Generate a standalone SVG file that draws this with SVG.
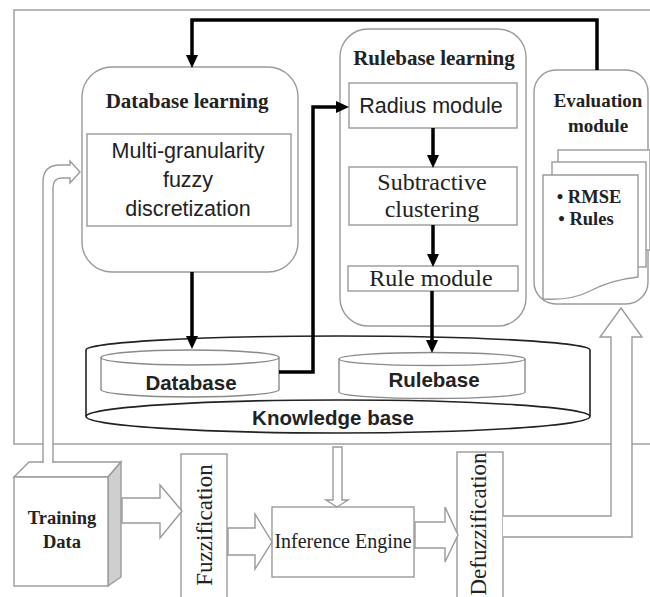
<svg xmlns="http://www.w3.org/2000/svg" width="650" height="597" viewBox="0 0 650 597">
<defs>
<marker id="ah" markerUnits="userSpaceOnUse" markerWidth="14" markerHeight="14" viewBox="0 -7 14 14" refX="1" refY="0" orient="auto">
<path d="M0,-6 L13,0 L0,6 Z" fill="#000"/>
</marker>
<style>
.g{fill:#fff;stroke:#9a9a9a;stroke-width:1.4}
.gb{fill:none;stroke:#9a9a9a;stroke-width:1.4}
.k{fill:none;stroke:#000;stroke-width:3.5;marker-end:url(#ah)}
.kb{fill:#fff;stroke:#222;stroke-width:1.6}
.sb{font-family:"Liberation Serif",serif;font-weight:bold;fill:#222;text-anchor:middle}
.sr{font-family:"Liberation Serif",serif;fill:#222;text-anchor:middle}
.ss{font-family:"Liberation Sans",Arial,sans-serif;fill:#222;text-anchor:middle}
.ssb{font-family:"Liberation Sans",Arial,sans-serif;font-weight:bold;fill:#222;text-anchor:middle}
</style>
</defs>
<rect x="0" y="0" width="650" height="597" fill="#fff"/>
<rect x="14" y="10" width="650" height="434" class="gb"/>

<g id="database-learning">
<rect x="82" y="67" width="216" height="205" rx="30" class="g"/>
<text x="187" y="108" class="sb" font-size="21">Database learning</text>
<rect x="87" y="134" width="204" height="92" class="g"/>
<text x="188" y="158" class="ss" font-size="21.5">Multi-granularity</text>
<text x="188" y="187" class="ss" font-size="21.5">fuzzy</text>
<text x="188" y="216" class="ss" font-size="21.5">discretization</text>
</g>

<g id="rulebase-learning">
<rect x="340" y="29" width="186" height="297" rx="28" class="g"/>
<text x="434" y="65" class="sb" font-size="21">Rulebase learning</text>
</g>
<g id="radius-module">
<rect x="349" y="83" width="168" height="45" class="g"/>
<text x="431" y="113" class="ss" font-size="21.5">Radius module</text>
</g>
<g id="subtractive-clustering">
<rect x="349" y="167" width="168" height="58" class="g"/>
<text x="432" y="190" class="sr" font-size="24">Subtractive</text>
<text x="432" y="217" class="sr" font-size="24">clustering</text>
</g>
<g id="rule-module">
<rect x="348" y="266" width="170" height="25" class="g"/>
<text x="431" y="286" class="sr" font-size="24">Rule module</text>
</g>

<g id="evaluation-module">
<rect x="534" y="70" width="114" height="234" rx="22" class="g"/>
<text x="598" y="107" class="sb" font-size="19">Evaluation</text>
<text x="598" y="132" class="sb" font-size="19">module</text>
<rect x="558" y="150" width="92" height="100" class="g"/>
<rect x="552" y="162" width="94" height="105" class="g"/>
<path d="M543,175 H638 V277 C620,279 605,283 590,291 C575,299 560,300 543,299 Z" class="g"/>
<text x="589" y="203" class="sb" font-size="18.5">• RMSE</text>
<text x="586" y="225" class="sb" font-size="18.5">• Rules</text>
</g>

<g id="knowledge-base">
<path d="M86,350 A252,14 0 0 1 590,350 V416" class="kb" fill="none"/>
<path d="M86,350 V416" class="kb"/>
<ellipse cx="338" cy="416.5" rx="252" ry="16.5" class="kb"/>
<text x="333" y="425" class="ssb" font-size="20.5">Knowledge base</text>
</g>
<g id="database">
<path d="M101,357.5 V389.5 A89,7.5 0 0 0 279,389.5 V357.5" fill="#fff" stroke="#8a8a8a" stroke-width="1.4"/>
<ellipse cx="190" cy="357.5" rx="89" ry="7.5" fill="#fff" stroke="#8a8a8a" stroke-width="1.4"/>
<text x="191" y="390" class="ssb" font-size="20.5">Database</text>
</g>
<g id="rulebase">
<path d="M339,359 V392 A93,6.5 0 0 0 525,392 V359" fill="#fff" stroke="#8a8a8a" stroke-width="1.4"/>
<ellipse cx="432" cy="359" rx="93" ry="6.5" fill="#fff" stroke="#8a8a8a" stroke-width="1.4"/>
<text x="434" y="387" class="ssb" font-size="20.5">Rulebase</text>
</g>

<g id="training-data">
<polygon points="14,477 29,462 121,462 108,477" class="g"/>
<polygon points="108,477 121,462 121,577 108,586" fill="#cfcfcf" stroke="#9a9a9a" stroke-width="1.4"/>
<rect x="14" y="477" width="94" height="109" class="g"/>
<text x="62" y="524" class="sb" font-size="18.5">Training</text>
<text x="62" y="548" class="sb" font-size="18.5">Data</text>
</g>

<g id="fuzzification">
<rect x="181" y="454" width="46" height="150" class="g"/>
<text transform="translate(212,525) rotate(-90)" class="sr" font-size="23">Fuzzification</text>
</g>
<g id="inference-engine">
<rect x="272" y="507" width="142" height="70" class="g"/>
<text x="343" y="548" class="sr" font-size="20">Inference Engine</text>
</g>
<g id="defuzzification">
<rect x="457" y="452" width="46" height="152" class="g"/>
<text transform="translate(486,524) rotate(-90)" class="sr" font-size="23">Defuzzification</text>
</g>

<g id="connectors">
<path d="M597,70 V20 H192 V56" class="k"/>
<path d="M192,272 V337" class="k"/>
<path d="M433,128 V156" class="k"/>
<path d="M433,225 V255" class="k"/>
<path d="M432,291 V341" class="k"/>
<path d="M279,372 H313 V107 H337" class="k"/>
<path d="M43,463 V182 Q43,165 60,165 H70 V161 L80,172 L70,183 V178 H62 Q53,178 53,188 V463" class="g"/>
<polygon points="122,498 160,498 160,485 182,511 160,538 160,523 122,523" class="g"/>
<polygon points="228,528 255,528 255,514 272,542 255,569 255,555 228,555" class="g"/>
<polygon points="415,522 445,522 445,507 458,535 445,562 445,548 415,548" class="g"/>
<polygon points="333,447 333,500 326,500 337,507 348,500 342,500 342,447" class="g"/>
<path d="M503,516 H611 V337 H600 L621,308 L642,337 H632 V537 H503" class="g"/>
</g>
</svg>
